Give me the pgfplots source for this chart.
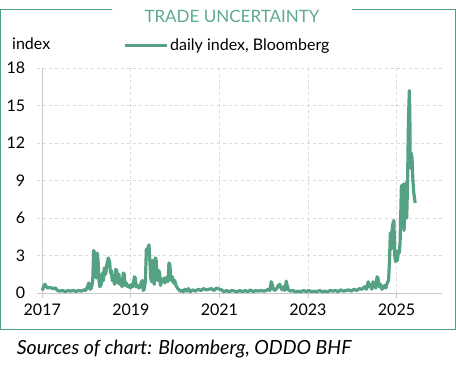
\documentclass[border=0pt]{standalone}
\usepackage{pgfplots}
\pgfplotsset{compat=1.18}
\usepackage{fontspec}
\setmainfont{Lato}
\definecolor{serie}{RGB}{84,161,131}
\definecolor{ttl}{RGB}{94,170,140}
\definecolor{frm}{RGB}{78,158,128}
\definecolor{gridc}{RGB}{217,217,217}
\definecolor{axc}{RGB}{200,200,200}
\begin{document}
\fontsize{16pt}{19pt}\selectfont
\begin{tikzpicture}
\path[use as bounding box] (-36.7pt,-79pt) rectangle (419.3pt,293pt);
\begin{axis}[
  at={(0pt,0pt)}, anchor=south west,
  width=405pt, height=225pt, scale only axis,
  xmin=2016.874, xmax=2026.02, ymin=0, ymax=18,
  xtick={2017,2019,2021,2023,2025},
  ytick={0,3,6,9,12,15,18},
  /pgf/number format/1000 sep={},
  /pgf/number format/assume math mode=true,
  ticklabel style={font=\fontsize{16pt}{19pt}\selectfont},
  axis x line*=bottom, axis y line*=left,
  x axis line style={draw=axc, line width=0.8pt, -},
  y axis line style={draw=none, -},
  tick align=outside, major tick length=5pt,
  xtick style={draw=axc, line width=0.8pt},
  ytick style={draw=none},
  yticklabel style={anchor=east, xshift=-1pt},
  ymajorgrids, xmajorgrids,
  major grid style={draw=gridc, dashed, line width=0.7pt},
  legend style={at={(0.213,1.098)}, anchor=west, draw=none, fill=none, inner sep=0pt, font=\fontsize{16pt}{19pt}\selectfont},
  legend image code/.code={\draw[#1, line width=3pt] (0pt,0pt) -- (42pt,0pt);},
  clip=false,
]
\draw[draw=axc, line width=0.8pt] (axis cs:2017,0) -- (axis cs:2017,18);
\addplot[serie, line width=3.2pt, line join=round, mark=none] coordinates {
(2017.00,0.2)(2017.03,0.5)(2017.06,0.7)(2017.09,0.5)(2017.12,0.4)(2017.18,0.45)(2017.24,0.35)(2017.30,0.4)
(2017.34,0.2)(2017.40,0.15)(2017.46,0.2)(2017.52,0.1)(2017.58,0.2)(2017.64,0.15)(2017.70,0.2)(2017.76,0.12)
(2017.82,0.2)(2017.88,0.15)(2017.94,0.25)(2017.98,0.2)(2018.02,0.5)(2018.05,0.8)(2018.08,0.3)(2018.11,0.4)
(2018.14,1.0)(2018.16,3.4)(2018.18,3.2)(2018.20,2.0)(2018.22,1.2)(2018.24,3.2)(2018.26,2.6)(2018.28,1.0)
(2018.30,0.5)(2018.33,0.7)(2018.36,1.6)(2018.38,1.0)(2018.40,2.0)(2018.43,1.5)(2018.46,2.3)(2018.49,2.8)
(2018.52,2.5)(2018.54,1.6)(2018.56,1.8)(2018.58,1.0)(2018.61,1.2)(2018.63,0.7)(2018.66,1.9)(2018.68,1.8)
(2018.70,0.8)(2018.73,1.5)(2018.75,0.7)(2018.78,0.9)(2018.80,0.5)(2018.83,1.6)(2018.85,1.5)(2018.87,0.6)
(2018.90,0.8)(2018.93,0.5)(2018.96,0.6)(2018.99,0.4)(2019.02,0.7)(2019.05,0.5)(2019.08,1.3)(2019.10,1.2)
(2019.12,0.5)(2019.15,0.6)(2019.18,0.4)(2019.21,0.5)(2019.24,0.9)(2019.26,1.0)(2019.28,0.2)(2019.30,0.3)
(2019.33,1.0)(2019.35,3.5)(2019.37,3.0)(2019.39,3.6)(2019.41,3.85)(2019.43,2.5)(2019.45,1.2)(2019.47,0.9)
(2019.49,2.6)(2019.51,1.0)(2019.53,0.7)(2019.55,2.8)(2019.57,2.7)(2019.59,1.2)(2019.61,1.0)(2019.63,1.8)
(2019.65,1.6)(2019.67,0.6)(2019.70,1.1)(2019.72,0.9)(2019.75,1.2)(2019.77,0.8)(2019.80,1.1)(2019.82,1.3)
(2019.84,0.9)(2019.86,2.4)(2019.88,2.3)(2019.90,1.2)(2019.92,1.0)(2019.94,1.3)(2019.96,0.8)(2019.99,1.0)
(2020.02,0.6)(2020.05,0.4)(2020.08,0.3)(2020.11,0.15)(2020.15,0.2)(2020.18,0.1)(2020.22,0.3)(2020.26,0.15)
(2020.30,0.35)(2020.34,0.1)(2020.40,0.25)(2020.46,0.15)(2020.52,0.3)(2020.58,0.2)(2020.64,0.35)(2020.70,0.25)
(2020.76,0.3)(2020.82,0.35)(2020.88,0.2)(2020.94,0.4)(2021.00,0.3)(2021.05,0.25)(2021.10,0.1)(2021.16,0.2)
(2021.22,0.1)(2021.28,0.2)(2021.34,0.15)(2021.40,0.1)(2021.46,0.2)(2021.52,0.1)(2021.58,0.2)(2021.64,0.1)
(2021.70,0.25)(2021.76,0.1)(2021.82,0.2)(2021.88,0.15)(2021.94,0.2)(2022.00,0.15)(2022.06,0.2)(2022.10,0.3)
(2022.14,0.2)(2022.17,0.9)(2022.19,0.7)(2022.22,0.3)(2022.26,0.2)(2022.30,0.4)(2022.33,0.6)(2022.36,0.7)
(2022.39,0.4)(2022.42,0.25)(2022.45,0.5)(2022.48,0.2)(2022.51,0.95)(2022.53,0.6)(2022.56,0.25)(2022.60,0.15)
(2022.66,0.2)(2022.72,0.1)(2022.78,0.15)(2022.84,0.1)(2022.90,0.2)(2022.96,0.1)(2023.02,0.2)(2023.08,0.1)
(2023.14,0.15)(2023.20,0.1)(2023.26,0.2)(2023.32,0.1)(2023.38,0.15)(2023.44,0.1)(2023.50,0.2)(2023.56,0.15)
(2023.62,0.2)(2023.68,0.1)(2023.74,0.25)(2023.80,0.15)(2023.86,0.2)(2023.92,0.25)(2023.98,0.15)(2024.04,0.3)
(2024.10,0.2)(2024.16,0.35)(2024.22,0.3)(2024.28,0.5)(2024.32,0.3)(2024.36,0.9)(2024.38,0.5)(2024.41,0.7)
(2024.44,0.3)(2024.47,0.9)(2024.50,0.6)(2024.53,0.4)(2024.56,1.3)(2024.58,1.2)(2024.61,0.5)(2024.64,0.7)
(2024.67,0.3)(2024.70,0.4)(2024.73,0.6)(2024.76,0.4)(2024.79,0.8)(2024.82,1.0)(2024.84,2.5)(2024.86,4.8)
(2024.88,3.5)(2024.90,5.0)(2024.92,5.6)(2024.94,5.8)(2024.96,3.0)(2024.98,2.5)(2025.00,3.3)(2025.02,2.6)
(2025.04,3.4)(2025.06,3.2)(2025.08,4.0)(2025.10,7.0)(2025.11,8.6)(2025.13,5.8)(2025.15,8.7)(2025.17,5.0)
(2025.19,7.0)(2025.21,8.8)(2025.23,6.0)(2025.25,9.0)(2025.27,14.0)(2025.29,16.2)(2025.30,14.5)(2025.31,10.0)
(2025.33,11.2)(2025.35,10.8)(2025.37,9.0)(2025.39,8.0)(2025.41,7.5)(2025.42,7.2)
};
\addlegendentry{daily index, Bloomberg}
\end{axis}
\draw[frm, line width=1pt] (75.3pt,283pt) -- (-35.7pt,283pt) -- (-35.7pt,-37pt) -- (418.3pt,-37pt) -- (418.3pt,283pt) -- (315.3pt,283pt);
\node[ttl, font=\fontsize{17pt}{20pt}\selectfont] at (195.3pt,277pt) {TRADE UNCERTAINTY};
\node[anchor=west, inner sep=0pt] at (-24.7pt,249pt) {index};
\node[anchor=west, inner sep=0pt, font=\fontsize{19.5pt}{23pt}\selectfont\itshape] at (-20pt,-56pt) {Sources of chart: Bloomberg, ODDO BHF};
\end{tikzpicture}
\end{document}
